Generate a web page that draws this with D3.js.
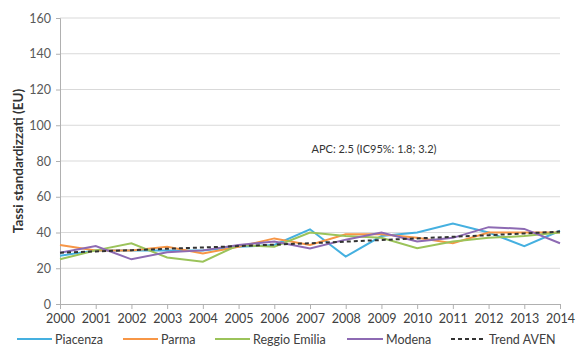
<!DOCTYPE html>
<html><head><meta charset="utf-8">
<script src="https://cdn.jsdelivr.net/npm/d3@7"></script>
<style>body{margin:0;background:#fff;} text{font-family:Lato,"Open Sans",sans-serif;}</style>
</head><body>
<svg id="c" width="576" height="347"></svg>
<script>
const years = [2000,2001,2002,2003,2004,2005,2006,2007,2008,2009,2010,2011,2012,2013,2014];
const piacenza = [27,30,30,30,30,32,33,41.8,26.5,38,40,45,40,32.4,41];
const parma = [33,30,30,32,28.3,32,36.7,33,39,39,37,34,40,40,40];
const reggioEmilia = [25,30,34,26,23.7,33,32,40,38,37,31.2,35,37,38,40];
const modena = [28.7,32.4,25,29,30,33,35,31,36,40,35,37,43,42,34];
const trendAven = [28.7,29.4,30.1,30.9,31.6,32.4,33.2,34.0,34.9,35.8,36.7,37.6,38.5,39.5,40.5];
const yTicks = [0,20,40,60,80,100,120,140,160];
const seriesNames = ["Piacenza","Parma","Reggio Emilia","Modena","Trend AVEN"];
const colors = ["#45b0e0","#f79646","#9bc35a","#8d6ab3","#333333"];
const annotation = "APC: 2.5 (IC95%: 1.8; 3.2)";
const yLabel = "Tassi standardizzati (EU)";

const svg = d3.select("#c");
const x = d3.scalePoint().domain(years).range([60,560]);
const y = d3.scaleLinear().domain([0,160]).range([304,18]);

// grid
svg.append("g").selectAll("line").data(yTicks.filter(d=>d>0)).join("line")
  .attr("x1",60).attr("x2",560).attr("y1",d=>y(d)).attr("y2",d=>y(d))
  .attr("stroke","#d9d9d9").attr("stroke-width",1);

// y axis
const ya = svg.append("g").attr("transform","translate(60,0)")
  .call(d3.axisLeft(y).tickValues(yTicks).tickSize(4).tickPadding(5));
ya.select(".domain").attr("stroke","#b0b0b0");
ya.selectAll(".tick line").attr("stroke","#b0b0b0");
ya.selectAll("text").attr("fill","#595959").style("font-size","12.5px").style("font-family","Lato,'Open Sans',sans-serif");

// x axis
const xa = svg.append("g").attr("transform","translate(0,304)")
  .call(d3.axisBottom(x).tickSize(5).tickPadding(5).tickFormat(d=>d));
xa.select(".domain").attr("stroke","#b0b0b0").attr("d","M60,0.5H560");
xa.selectAll(".tick line").attr("stroke","#b0b0b0");
xa.selectAll("text").attr("fill","#404040").style("font-size","12.5px").style("font-family","Lato,'Open Sans',sans-serif");

// y label
svg.append("text").attr("transform","translate(23,161) rotate(-90)")
  .attr("text-anchor","middle").attr("fill","#333").style("font-size","13.5px").style("font-weight","bold")
  .text(yLabel);

// lines
const all = [piacenza,parma,reggioEmilia,modena,trendAven];
const line = d3.line().x((d,i)=>x(years[i])).y(d=>y(d));
all.forEach((s,k)=>{
  svg.append("path").datum(s).attr("d",line).attr("fill","none")
    .attr("stroke",colors[k]).attr("stroke-width",2)
    .attr("stroke-dasharray",k===4?"4,3":null);
});

// annotation
svg.append("text").attr("x",374).attr("y",153).attr("text-anchor","middle")
  .attr("fill","#333").style("font-size","11px").text(annotation);

// legend
const legX = [17,123,215,347,451];
const legW = [35,35,35,36,32];
const lg = svg.append("g");
seriesNames.forEach((n,k)=>{
  lg.append("line").attr("x1",legX[k]).attr("x2",legX[k]+legW[k]).attr("y1",339).attr("y2",339)
    .attr("stroke",colors[k]).attr("stroke-width",2).attr("stroke-dasharray",k===4?"4,3":null);
  lg.append("text").attr("x",legX[k]+legW[k]+(k===4?6:3)).attr("y",343.5).attr("fill","#404040")
    .style("font-size","12.5px").text(n);
});
</script>
</body></html>
